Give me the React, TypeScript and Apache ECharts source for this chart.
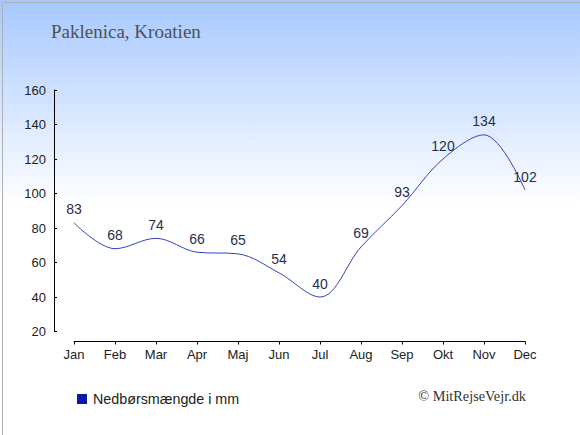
import React, { useEffect, useRef } from "react";
import * as echarts from "echarts";

const months = ["Jan", "Feb", "Mar", "Apr", "Maj", "Jun", "Jul", "Aug", "Sep", "Okt", "Nov", "Dec"];
const precipitation = [83, 68, 74, 66, 65, 54, 40, 69, 93, 120, 134, 102];
const seriesName = "Nedbørsmængde i mm";
const titleText = "Paklenica, Kroatien";
const creditText = "© MitRejseVejr.dk";

export default function App() {
  const ref = useRef<HTMLDivElement>(null);
  useEffect(() => {
    document.body.style.margin = "0";
    const chart = echarts.init(ref.current!, null, { renderer: "svg" });
    chart.setOption({
      animation: false,
      backgroundColor: {
        type: "linear",
        x: 0,
        y: 0,
        x2: 0,
        y2: 1,
        colorStops: [
          { offset: 0, color: "#a6c8ff" },
          { offset: 0.47, color: "#ffffff" },
          { offset: 1, color: "#ffffff" },
        ],
      },
      title: {
        text: titleText,
        left: 46,
        top: 17,
        textStyle: {
          fontFamily: "Liberation Serif",
          fontSize: 19,
          fontWeight: "normal",
          color: "#505050",
        },
      },
      legend: {
        left: 77,
        top: 392,
        padding: 0,
        icon: "rect",
        itemWidth: 10,
        itemHeight: 10,
        itemGap: 6,
        data: [{ name: seriesName, itemStyle: { color: "#0a1aa8" } }],
        textStyle: { fontFamily: "Liberation Sans", fontSize: 14.3, color: "#222222", padding: [0, 0, 0, 1] },
      },
      graphic: [
        {
          type: "rect",
          left: 0,
          top: 0,
          shape: { x: 0, y: 0, width: 579, height: 434 },
          style: { fill: "none", stroke: "#b0b0b0", lineWidth: 1 },
          silent: true,
        },
        {
          type: "text",
          right: 54,
          top: 389,
          style: {
            text: creditText,
            font: '14.3px "Liberation Serif"',
            fill: "#333333",
          },
        },
      ],
      grid: { left: 74, right: 55, top: 90, bottom: 103.5, containLabel: false },
      xAxis: {
        type: "category",
        data: months,
        boundaryGap: false,
        offset: 10,
        axisLine: { lineStyle: { color: "#000000", width: 1 } },
        axisTick: { alignWithLabel: true, length: 3, lineStyle: { color: "#000" } },
        axisLabel: { fontFamily: "Liberation Sans", fontSize: 13, color: "#222222", margin: 6 },
        splitLine: { show: false },
      },
      yAxis: {
        type: "value",
        min: 20,
        max: 160,
        interval: 20,
        offset: 20,
        axisLine: { show: true, lineStyle: { color: "#000000", width: 1 } },
        axisTick: { show: true, inside: true, length: 3, lineStyle: { color: "#000" } },
        axisLabel: { fontFamily: "Liberation Sans", fontSize: 13, color: "#222222", margin: 8 },
        splitLine: { show: false },
      },
      series: [
        {
          name: seriesName,
          type: "line",
          data: precipitation,
          smooth: 0.35,
          showSymbol: true,
          symbol: "circle",
          symbolSize: 1,
          lineStyle: { color: "#3341c4", width: 1 },
          itemStyle: { color: "rgba(0,0,0,0)" },
          label: {
            show: true,
            position: "top",
            distance: 6,
            fontFamily: "Liberation Sans",
            fontSize: 14,
            color: "#1f2f4f",
          },
        },
      ],
    });
    return () => chart.dispose();
  }, []);
  return <div ref={ref} style={{ width: 580, height: 435 }} />;
}
